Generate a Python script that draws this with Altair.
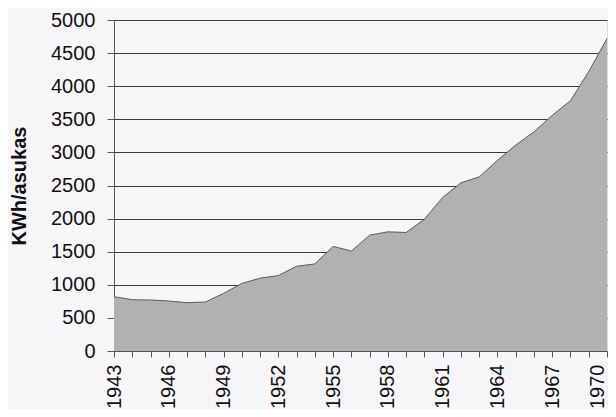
import altair as alt
import pandas as pd

years = list(range(1943, 1971))
values = [820, 775, 770, 755, 730, 740, 870, 1020, 1100, 1140,
          1280, 1315, 1580, 1510, 1750, 1800, 1790, 1990, 2320, 2540,
          2630, 2880, 3110, 3310, 3560, 3780, 4220, 4720]
y_ticks = [0, 500, 1000, 1500, 2000, 2500, 3000, 3500, 4000, 4500, 5000]

df = pd.DataFrame({"vuosi": years, "kwh": values})

chart = alt.Chart(df).mark_area(
    color="#b1b1b1",
    line={"color": "#5a5a5a", "strokeWidth": 1},
    opacity=1,
).encode(
    x=alt.X("vuosi:Q",
            scale=alt.Scale(domain=[1943, 1970], nice=False, zero=False),
            axis=alt.Axis(values=years, format="d", labelAngle=-90,
                          labelExpr="(datum.value - 1943) % 3 == 0 ? datum.label : ''",
                          labelAlign="right", labelBaseline="middle",
                          labelOffset={"condition": {"test": "datum.value == 1970", "value": -10}, "value": 0},
                          grid=False, tickSize=6, labelPadding=7,
                          labelFontSize=20, labelColor="#111",
                          labelOverlap=False, labelFlush=False,
                          domainColor="#555", tickColor="#555", title=None)),
    y=alt.Y("kwh:Q",
            scale=alt.Scale(domain=[0, 5000], nice=False),
            axis=alt.Axis(values=y_ticks, format="d", grid=True,
                          gridColor="#3a3a3a", gridWidth=1, gridOpacity=1,
                          tickSize=7, tickColor="#555", domainColor="#555",
                          labelPadding=12, labelFontSize=20, labelColor="#111",
                          labelFlush=False,
                          title="KWh/asukas", titleFontSize=20,
                          titleFontWeight="bold", titleColor="#111",
                          titleBaseline="alphabetic",
                          titleX=-89)),
).properties(
    width=493, height=331,
    autosize="none",
    padding={"left": 106, "top": 12, "right": 1, "bottom": 58},
    background="#f6f6f8",
).configure_view(
    stroke="#555", strokeWidth=1,
).configure(
    font="Liberation Sans",
)

chart.save("out.html", embed_options={"renderer": "svg", "actions": False})
